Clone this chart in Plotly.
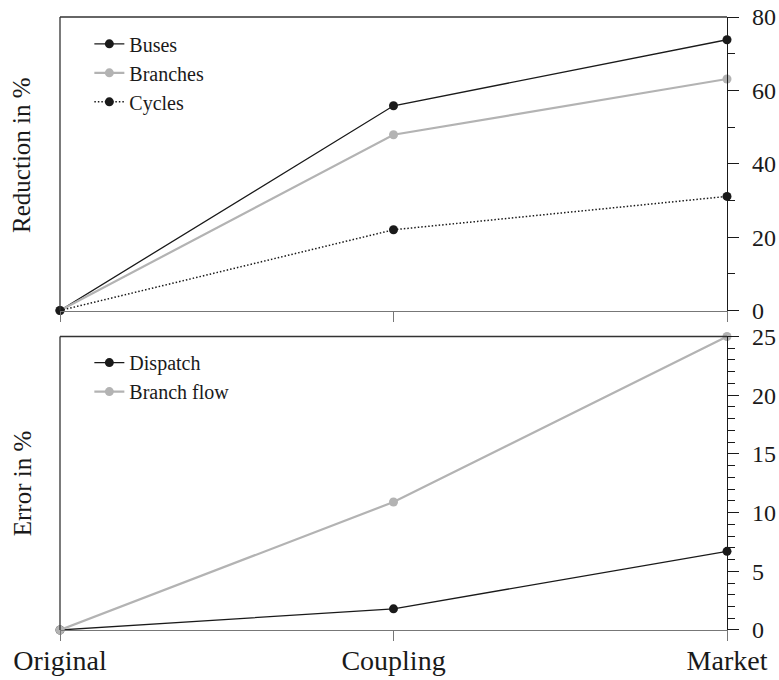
import plotly.graph_objects as go
from plotly.subplots import make_subplots

stages = ["Original", "Coupling", "Market"]
buses = [0, 55.8, 73.8]
branches = [0, 47.9, 63.1]
cycles = [0, 22.0, 31.1]
dispatch = [0, 1.8, 6.7]
branch_flow = [0, 10.9, 25.0]

BLACK = "#1a1a1a"
GRAY = "#b3b3b3"
FONT = "Liberation Serif"

fig = make_subplots(rows=2, cols=1, shared_xaxes=True, vertical_spacing=0.0424)

def add(y, name, color, width, dash, row, legend):
    fig.add_trace(go.Scatter(
        x=stages, y=y, name=name, mode="lines+markers",
        line=dict(color=color, width=width, dash=dash),
        marker=dict(color=color, size=9),
        cliponaxis=False, legend=legend,
    ), row=row, col=1)

add(buses, "Buses", BLACK, 1.3, "solid", 1, "legend")
add(branches, "Branches", GRAY, 2.2, "solid", 1, "legend")
add(cycles, "Cycles", BLACK, 1.5, "1.5px,2px", 1, "legend")
add(dispatch, "Dispatch", BLACK, 1.3, "solid", 2, "legend2")
add(branch_flow, "Branch flow", GRAY, 2.2, "solid", 2, "legend2")

for r in (1, 2):
    fig.update_xaxes(
        row=r, col=1, type="category", range=[0, 2], showgrid=False,
        showline=True, linecolor="#777777", linewidth=1.3,
        ticks="outside", ticklen=10, tickcolor="#777777", tickwidth=1.3,
        zeroline=False, automargin=False, ticklabelstandoff=-5,
        showticklabels=(r == 2),
        tickfont=dict(family=FONT, size=28, color=BLACK),
    )

fig.update_yaxes(row=1, col=1, range=[0, 80], dtick=20, side="right",
                 minor=dict(dtick=10, ticks="outside", ticklen=7, tickcolor=BLACK, tickwidth=1.2))
fig.update_yaxes(row=2, col=1, range=[0, 25], dtick=5, side="right",
                 minor=dict(dtick=1, ticks="outside", ticklen=7, tickcolor=BLACK, tickwidth=1.2))
fig.update_yaxes(showgrid=False, zeroline=False, showline=True, linecolor=BLACK,
                 linewidth=1.3, ticks="outside", ticklen=11, tickcolor=BLACK, tickwidth=1.3,
                 automargin=False, ticklabelstandoff=8,
                 tickfont=dict(family=FONT, size=24, color=BLACK))

for r, title, ty in ((1, "Reduction in %", 0.53), (2, "Error in %", 0.5)):
    yref = "y domain" if r == 1 else "y2 domain"
    xref = "x domain" if r == 1 else "x2 domain"
    fig.add_shape(type="line", xref=xref, yref=yref, x0=0, x1=0, y0=0, y1=1,
                  line=dict(color="#333333", width=1.3))
    fig.add_shape(type="line", xref=xref, yref=yref, x0=0, x1=1, y0=1, y1=1,
                  line=dict(color="#333333", width=1.3))
    fig.add_annotation(text=title, xref="paper", yref=yref, x=-0.057, y=ty,
                       textangle=-90, showarrow=False, xanchor="center", yanchor="middle",
                       font=dict(family=FONT, size=25, color=BLACK))

legend_style = dict(font=dict(family=FONT, size=20, color=BLACK), bgcolor="rgba(0,0,0,0)",
                    xanchor="left", yanchor="top", itemwidth=30, tracegroupgap=0)
fig.update_layout(
    width=779, height=680,
    margin=dict(l=60, r=52, t=17, b=50, autoexpand=False),
    plot_bgcolor="white", paper_bgcolor="white",
    legend=dict(x=0.044, y=0.988, **legend_style),
    legend2=dict(x=0.044, y=0.468, **legend_style),
    font=dict(family=FONT, color=BLACK),
)

fig.write_html("out.html")
